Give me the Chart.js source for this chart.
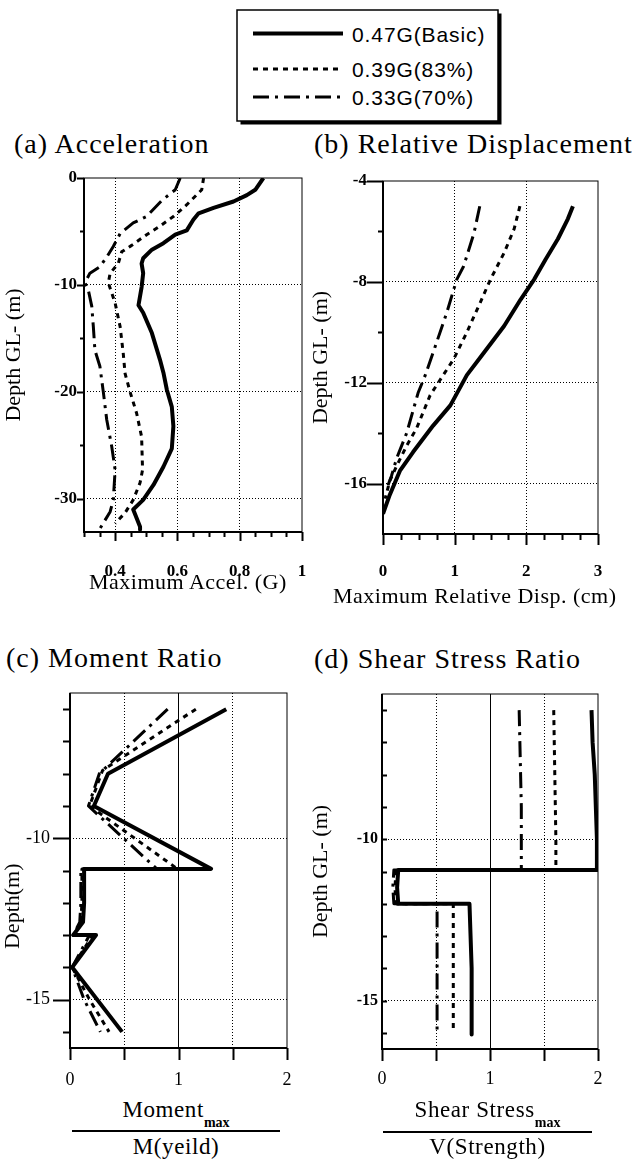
<!DOCTYPE html>
<html>
<head>
<meta charset="utf-8">
<title>Pile response by input level</title>
<script src="https://cdn.jsdelivr.net/npm/chart.js@4.4.1/dist/chart.umd.min.js"></script>
<style>
  html, body { margin: 0; padding: 0; background: #fff; }
  body { position: relative; width: 632px; height: 1160px; overflow: hidden;
         font-family: "Liberation Serif", "Times New Roman", serif; color: #000; }
  canvas, #legend { position: absolute; }
  .panel-title { position: absolute; font-size: 28px; line-height: 34px; letter-spacing: 1px; white-space: nowrap; }
  .axis-title { position: absolute; font-size: 22px; line-height: 26px; letter-spacing: 0.5px; white-space: nowrap; }
  .frac { position: absolute; font-size: 23px; line-height: 30px; letter-spacing: 0.6px; text-align: center; white-space: nowrap; }
  .frac sub { font-size: 14px; font-weight: bold; letter-spacing: 0; vertical-align: baseline; position: relative; top: 10px; }
  .frac-bar { position: absolute; height: 1.5px; background: #000; }
</style>
</head>
<body>

<svg id="legend" width="632" height="132" style="left:0;top:0"></svg>

<div class="panel-title" style="left:14px;top:127px">(a) Acceleration</div>
<div class="panel-title" style="left:314px;top:127px">(b) Relative Displacement</div>
<div class="panel-title" style="left:6px;top:641px">(c) Moment Ratio</div>
<div class="panel-title" style="left:314px;top:642px">(d) Shear Stress Ratio</div>

<canvas id="chartA" width="342" height="437" style="left:0;top:159px"></canvas>
<canvas id="chartB" width="326" height="458" style="left:305px;top:153px"></canvas>
<canvas id="chartC" width="314" height="432" style="left:0;top:661px"></canvas>
<canvas id="chartD" width="318" height="415" style="left:305px;top:679px"></canvas>

<div class="axis-title" style="left:89px;top:569px">Maximum Accel. (G)</div>
<div class="axis-title" style="left:333px;top:583px">Maximum Relative Disp. (cm)</div>

<div class="frac" style="left:72px;width:208px;top:1095px">Moment<sub>max</sub></div>
<div class="frac-bar" style="left:72px;width:208px;top:1130px"></div>
<div class="frac" style="left:72px;width:208px;top:1132px">M(yeild)</div>

<div class="frac" style="left:383px;width:209px;top:1095px">Shear Stress<sub>max</sub></div>
<div class="frac-bar" style="left:383px;width:209px;top:1131px"></div>
<div class="frac" style="left:383px;width:209px;top:1132px">V(Strength)</div>

<script>
// ---------------- SERIES ----------------
const seriesNames = ["0.47G(Basic)", "0.39G(83%)", "0.33G(70%)"];

// (a) maximum acceleration (G) against depth (m)
const accBasic = [0.876, 0.85, 0.823, 0.78, 0.716, 0.668, 0.651, 0.63, 0.593, 0.555, 0.518, 0.49, 0.485, 0.49, 0.485,
                  0.475, 0.49, 0.518, 0.544, 0.555, 0.566, 0.582, 0.587, 0.582, 0.555, 0.523, 0.49, 0.458, 0.48, 0.48];
const accBasicDepth = [0, -1.1, -1.6, -2.2, -2.8, -3.3, -3.9, -4.9, -5.3, -6.1, -6.7, -7.5, -8.0, -8.9, -10.2,
                       -11.9, -12.6, -14.5, -17.0, -18.2, -19.8, -21.4, -23.2, -25.3, -27.0, -28.7, -30.1, -31.0, -32.6, -32.9];
const accMid = [0.684, 0.678, 0.63, 0.587, 0.544, 0.501, 0.453, 0.421, 0.41, 0.384, 0.378, 0.40,
                0.416, 0.426, 0.432, 0.448, 0.469, 0.485, 0.488, 0.48, 0.458, 0.432, 0.40];
const accMidDepth = [0, -1.1, -2.5, -3.6, -4.5, -5.3, -6.3, -6.9, -8.0, -8.9, -9.8, -11.7,
                     -13.9, -16.4, -18.3, -20.0, -22.0, -24.2, -27.3, -28.5, -30.1, -31.3, -32.3];
const accLow = [0.609, 0.593, 0.55, 0.501, 0.458, 0.416, 0.394, 0.373, 0.351, 0.319, 0.303, 0.314,
                0.325, 0.33, 0.335, 0.351, 0.362, 0.373, 0.389, 0.40, 0.394, 0.384, 0.351];
const accLowDepth = [0, -1.1, -2.1, -3.6, -4.2, -5.2, -6.4, -7.4, -8.3, -8.9, -9.8, -10.5,
                     -12.0, -13.9, -16.1, -17.6, -20.0, -22.6, -25.1, -27.3, -30.1, -31.2, -32.8];

// (b) maximum relative displacement (cm) against depth (m)
const dispBasic = [2.65, 2.58, 2.44, 2.27, 2.11, 1.92, 1.69, 1.41, 1.17, 0.94, 0.70, 0.42, 0.235, 0.094, 0];
const dispBasicDepth = [-5, -5.5, -6.3, -7.1, -7.9, -8.7, -9.75, -10.8, -11.7, -12.9, -13.7, -14.75, -15.5, -16.45, -17.2];
const dispMid = [1.91, 1.83, 1.69, 1.50, 1.36, 1.17, 0.985, 0.84, 0.657, 0.47, 0.33, 0.19, 0.094, 0.03];
const dispMidDepth = [-5, -5.9, -6.85, -7.9, -8.8, -10, -11.07, -11.7, -12.5, -13.8, -14.5, -15.3, -15.9, -16.6];
const dispLow = [1.35, 1.27, 1.125, 1.03, 0.89, 0.70, 0.586, 0.49, 0.33, 0.19, 0.118, 0.07];
const dispLowDepth = [-5, -6.06, -7.38, -7.9, -9.22, -10.8, -11.73, -12.4, -14.0, -15.0, -15.7, -16.07];

// (c) moment ratio against depth (m)
const momBasic = [1.44, 0.35, 0.22, 1.30, 0.13, 0.13, 0.12, 0.03, 0.24, 0.02, 0.48];
const momBasicDepth = [-6, -8, -9, -10.95, -10.95, -12, -12.6, -13, -13, -14, -16];
const momMid = [1.16, 0.30, 0.18, 0.99, 0.11, 0.11, 0.10, 0.03, 0.21, 0.02, 0.18, 0.36];
const momMidDepth = [-6, -7.9, -9, -10.95, -10.95, -12, -12.6, -13, -13, -14, -15, -16];
const momLow = [0.90, 0.27, 0.17, 0.80, 0.10, 0.10, 0.09, 0.03, 0.18, 0.02, 0.13, 0.28];
const momLowDepth = [-6, -8, -9, -10.95, -10.95, -12, -12.6, -13, -13, -14, -15, -16];

// (d) shear stress ratio against depth (m)
const shearBasic = [1.94, 1.95, 1.97, 1.98, 1.99, 1.99, 0.15, 0.14, 0.15, 0.81, 0.82, 0.83, 0.83];
const shearBasicDepth = [-6, -7, -8, -9, -10, -10.95, -10.95, -11.5, -12, -12, -13, -14, -16.05];
const shearMid = [1.59, 1.60, 1.61, 1.61, 0.13, 0.12, 0.13, 0.66, 0.66];
const shearMidDepth = [-6, -8, -10, -10.95, -10.95, -11.5, -12, -12, -15.9];
const shearLow = [1.27, 1.28, 1.29, 1.29, 0.11, 0.10, 0.11, 0.51, 0.51];
const shearLowDepth = [-6, -7.5, -9, -10.95, -10.95, -11.5, -12, -12, -16];

// ---------------- TICKS ----------------
const accTicks = [0.4, 0.6, 0.8, 1];
const accMinor = [0.3, 0.35, 0.45, 0.5, 0.55, 0.65, 0.7, 0.75, 0.85, 0.9, 0.95];
const depthTicksA = [0, -10, -20, -30];
const depthMinorA = [-5, -15, -25];

const dispTicks = [0, 1, 2, 3];
const dispMinor = [0.25, 0.5, 0.75, 1.25, 1.5, 1.75, 2.25, 2.5, 2.75];
const depthTicksB = [-4, -8, -12, -16];
const depthMinorB = [-6, -10, -14];

const ratioTicks = [0, 0.5, 1, 1.5, 2];
const ratioLabels = [0, 1, 2];
const depthTicksCD = [-10, -15];
const depthMinorCD = [-6, -7, -8, -9, -11, -12, -13, -14, -16];

// ---------------- STYLE ----------------
const SERIF = "'Liberation Serif', serif";
const lineWidths = [4, 3, 3];
const lineDashes = [[], [5, 5], [16, 6, 3, 6]];

Chart.defaults.font.family = SERIF;
Chart.defaults.color = "#000";

const pts = (xs, ys) => xs.map((x, i) => ({ x: x, y: ys[i] }));

// -------------------- LEGEND --------------------
const NS = "http://www.w3.org/2000/svg";
const legendSvg = document.getElementById("legend");
function svgEl(tag, attrs, text) {
    const el = document.createElementNS(NS, tag);
    Object.keys(attrs).forEach(k => el.setAttribute(k, attrs[k]));
    if (text) el.textContent = text;
    legendSvg.appendChild(el);
    return el;
}
svgEl("rect", { x: 240.5, y: 13.5, width: 261, height: 111, fill: "#000" });
svgEl("rect", { x: 237, y: 10, width: 261, height: 111, fill: "#fff", stroke: "#000", "stroke-width": 1.5 });
[33.5, 69, 97].forEach((y, i) => {
    svgEl("line", { x1: 253, x2: 343, y1: y, y2: y, stroke: "#000",
                    "stroke-width": lineWidths[i], "stroke-dasharray": lineDashes[i].join(" ") || "none" });
    svgEl("text", { x: 352, y: y + 8, "font-family": "'Liberation Sans', Arial, sans-serif",
                    "font-size": 21, "letter-spacing": 0.9, fill: "#000" }, seriesNames[i]);
});

// -------------------- AXES --------------------
function axis(pos, o) {
    return {
        type: "linear", position: pos, min: o.min, max: o.max,
        afterBuildTicks: s => { s.ticks = o.ticks.map(v => ({ value: v })); },
        afterFit: s => { if (pos === "bottom") s.height = o.size; else s.width = o.size; },
        grid: {
            color: c => (c.tick && c.tick.value !== o.min && c.tick.value !== o.max) ? "#000" : "rgba(0,0,0,0)",
            lineWidth: 1,
            drawTicks: false
        },
        border: { display: false, dash: c => (c.tick && c.tick.value === o.solid) ? [] : [1, 2] },
        ticks: {
            autoSkip: false, maxRotation: 0, padding: o.pad, color: "#000", font: o.font,
            callback: v => o.labels.includes(v) ? String(v) : ""
        },
        title: o.title
            ? { display: true, text: o.title, color: "#000", font: { family: SERIF, size: 22 }, padding: o.titlePad }
            : { display: false }
    };
}

// plot box (heavier left and bottom) plus major / minor tick marks
function frame(marks) {
    return {
        id: "frame",
        afterDraw(chart) {
            const { ctx, chartArea: a, scales } = chart;
            ctx.save();
            ctx.setLineDash([]);
            ctx.strokeStyle = "#000";
            ctx.lineWidth = 1;
            ctx.strokeRect(a.left, a.top, a.right - a.left, a.bottom - a.top);
            ctx.lineWidth = 2;
            ctx.beginPath();
            ctx.moveTo(a.left, a.top);
            ctx.lineTo(a.left, a.bottom);
            ctx.lineTo(a.right, a.bottom);
            ctx.stroke();

            ctx.lineWidth = 2;
            ctx.beginPath();
            marks.forEach(m => {
                const s = scales[m.axis];
                m.values.forEach(v => {
                    const p = Math.round(s.getPixelForValue(v)) + 0.5;
                    if (m.axis === "x") {
                        ctx.moveTo(p, a.bottom);
                        ctx.lineTo(p, a.bottom + m.len);
                    } else {
                        ctx.moveTo(a.left, p);
                        ctx.lineTo(a.left - m.len, p);
                    }
                });
            });
            ctx.stroke();
            ctx.restore();
        }
    };
}

function panel(id, series, padding, xo, yo, marks) {
    return new Chart(document.getElementById(id), {
        type: "scatter",
        data: {
            datasets: series.map((s, i) => ({
                label: seriesNames[i],
                data: s,
                showLine: true,
                pointRadius: 0,
                borderColor: "#000",
                borderWidth: lineWidths[i],
                borderDash: lineDashes[i],
                borderJoinStyle: "round",
                tension: 0
            }))
        },
        options: {
            responsive: false,
            animation: false,
            events: [],
            layout: { padding: padding },
            plugins: { legend: { display: false }, tooltip: { enabled: false } },
            scales: { x: axis("bottom", xo), y: axis("left", yo) }
        },
        plugins: [frame(marks)]
    });
}

const boldTick = { family: SERIF, size: 17, weight: "bold" };
const plainTick = { family: SERIF, size: 18 };

// -------------------- (a) ACCELERATION --------------------
panel("chartA",
    [pts(accBasic, accBasicDepth), pts(accMid, accMidDepth), pts(accLow, accLowDepth)],
    { top: 19, left: 0, right: 40, bottom: 0 },
    { min: 0.3, max: 1, ticks: accTicks, labels: accTicks, size: 64, pad: 29, font: boldTick },
    { min: -33.1, max: 0, ticks: depthTicksA, labels: depthTicksA, size: 84, pad: 7, font: boldTick,
      title: "Depth GL- (m)", titlePad: { top: 1, bottom: 0 } },
    [{ axis: "x", values: accTicks, len: 9 }, { axis: "x", values: accMinor, len: 5 },
     { axis: "y", values: depthTicksA, len: 7 }, { axis: "y", values: depthMinorA, len: 4 }]);

// -------------------- (b) RELATIVE DISPLACEMENT --------------------
panel("chartB",
    [pts(dispBasic, dispBasicDepth), pts(dispMid, dispMidDepth), pts(dispLow, dispLowDepth)],
    { top: 28, left: 0, right: 33, bottom: 0 },
    { min: 0, max: 3, ticks: dispTicks, labels: dispTicks, size: 77, pad: 27.5, font: boldTick },
    { min: -18, max: -4, ticks: depthTicksB, labels: depthTicksB, size: 78, pad: 16, font: boldTick,
      title: "Depth GL- (m)", titlePad: { top: 3, bottom: 0 } },
    [{ axis: "x", values: dispTicks, len: 11 }, { axis: "x", values: dispMinor, len: 6 },
     { axis: "y", values: depthTicksB, len: 16 }, { axis: "y", values: depthMinorB, len: 5 }]);

// -------------------- (c) MOMENT RATIO --------------------
panel("chartC",
    [pts(momBasic, momBasicDepth), pts(momMid, momMidDepth), pts(momLow, momLowDepth)],
    { top: 32, left: 0, right: 27, bottom: 0 },
    { min: 0, max: 2, ticks: ratioTicks, labels: ratioLabels, size: 45, solid: 1, pad: 21, font: plainTick },
    { min: -16.5, max: -5.5, ticks: depthTicksCD, labels: depthTicksCD, size: 70, pad: 20, font: plainTick,
      title: "Depth(m)             ", titlePad: { top: 0, bottom: 0 } },
    [{ axis: "x", values: ratioTicks, len: 12 },
     { axis: "y", values: depthTicksCD, len: 17 }, { axis: "y", values: depthMinorCD, len: 7 }]);

// -------------------- (d) SHEAR STRESS RATIO --------------------
panel("chartD",
    [pts(shearBasic, shearBasicDepth), pts(shearMid, shearMidDepth), pts(shearLow, shearLowDepth)],
    { top: 15, left: 0, right: 25, bottom: 0 },
    { min: 0, max: 2, ticks: ratioTicks, labels: ratioLabels, size: 45, solid: 1, pad: 19, font: plainTick },
    { min: -16.5, max: -5.5, ticks: depthTicksCD, labels: depthTicksCD, size: 77, pad: 4,
      font: { family: SERIF, size: 16, weight: "bold" },
      title: "Depth GL- (m)", titlePad: { top: 3, bottom: 0 } },
    [{ axis: "x", values: ratioTicks, len: 12 },
     { axis: "y", values: depthTicksCD, len: -5 }, { axis: "y", values: depthMinorCD, len: -5 }]);
</script>
</body>
</html>
